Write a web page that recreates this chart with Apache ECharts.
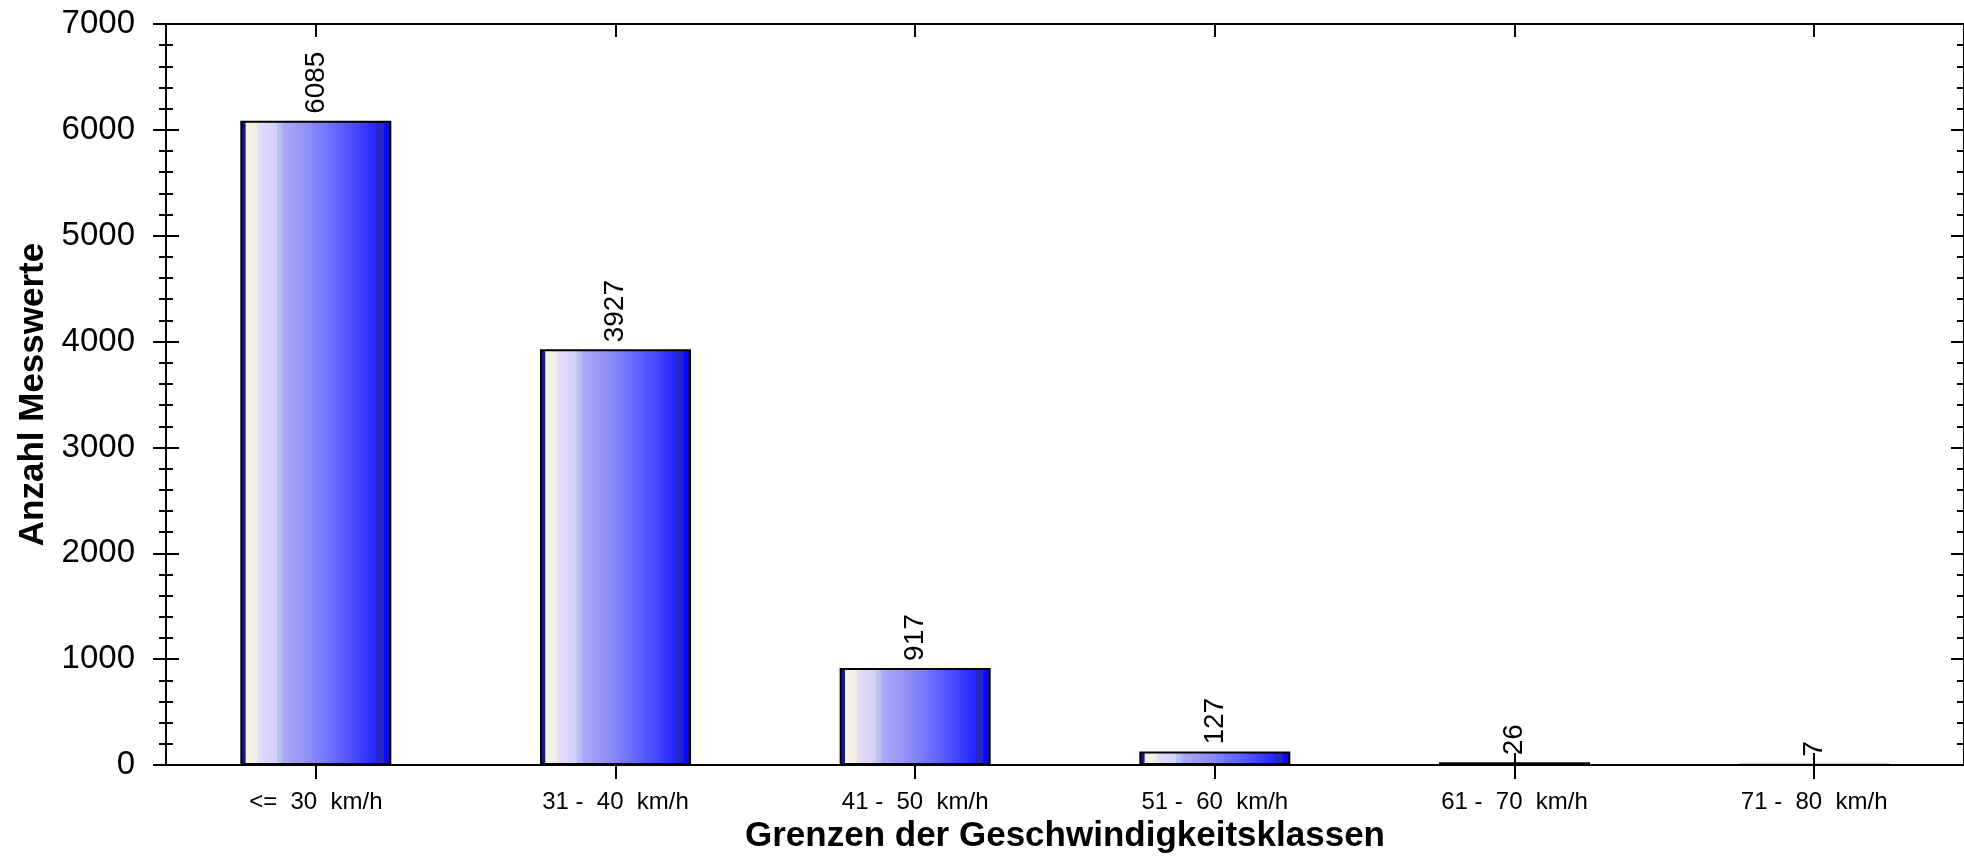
<!DOCTYPE html>
<html><head><meta charset="utf-8">
<script src="https://cdn.jsdelivr.net/npm/echarts@6/dist/echarts.min.js"></script>
<style>html,body{margin:0;padding:0;background:#fff}#c{width:1964px;height:859px}</style>
</head><body><div id="c"></div>
<script>
const categories = ['<=  30  km/h', '31 -  40  km/h', '41 -  50  km/h', '51 -  60  km/h', '61 -  70  km/h', '71 -  80  km/h'];
const values = [6085, 3927, 917, 127, 26, 7];
const yMin = 0, yMax = 7000, yStep = 1000;
const xTitle = 'Grenzen der Geschwindigkeitsklassen';
const yTitle = 'Anzahl Messwerte';

const FONT = '"Liberation Sans", Arial, Helvetica, sans-serif';
const chart = echarts.init(document.getElementById('c'), null, {renderer: 'canvas'});

const barGradient = new echarts.graphic.LinearGradient(0, 0, 1, 0, [
  {offset: 0, color: '#16168e'},
  {offset: 0.032, color: '#16168e'},
  {offset: 0.038, color: '#f2f2fa'},
  {offset: 0.06, color: '#f4f2e4'},
  {offset: 0.112, color: '#f0eee0'},
  {offset: 0.118, color: '#e6dcf8'},
  {offset: 0.24, color: '#d2d0f8'},
  {offset: 0.245, color: '#b8c4ec'},
  {offset: 0.275, color: '#b4c0ee'},
  {offset: 0.28, color: '#ababfb'},
  {offset: 0.45, color: '#9090f4'},
  {offset: 0.6, color: '#6e6eff'},
  {offset: 0.75, color: '#4c4cff'},
  {offset: 0.9, color: '#2424ff'},
  {offset: 0.905, color: '#2626c4'},
  {offset: 0.948, color: '#2626c4'},
  {offset: 0.952, color: '#0a0aff'},
  {offset: 1, color: '#0606ff'}
]);

const lineStyle = {color: '#000', width: 2};
const tickStyle = {color: '#000', width: 2};

function yAx(extra) {
  return Object.assign({
    type: 'value', min: yMin, max: yMax, interval: yStep,
    splitLine: {show: false},
    axisLine: {show: true, onZero: false, lineStyle: lineStyle},
    axisTick: {show: true, length: 13, lineStyle: tickStyle},
    minorTick: {show: true, splitNumber: 5, length: 7, lineStyle: {color: '#000', width: 2}},
    minorSplitLine: {show: false},
    axisLabel: {show: false}
  }, extra);
}
function xAx(extra) {
  return Object.assign({
    type: 'category', data: categories,
    axisLine: {show: true, onZero: false, lineStyle: lineStyle},
    axisTick: {show: true, alignWithLabel: true, length: 14, lineStyle: tickStyle},
    axisLabel: {show: false},
    splitLine: {show: false}
  }, extra);
}

chart.setOption({
  backgroundColor: '#fff',
  animation: false,
  textStyle: {fontFamily: FONT},
  grid: {left: 166, right: -3, top: 24, bottom: 93, containLabel: false},
  xAxis: [
    xAx({position: 'bottom',
      axisLabel: {show: true, color: '#000', fontSize: 24, fontFamily: FONT, margin: 25, interval: 0},
      name: xTitle, nameLocation: 'middle', nameGap: 54,
      nameTextStyle: {fontSize: 35, fontWeight: 'bold', color: '#000', fontFamily: FONT}}),
    xAx({position: 'bottom', axisLine: {show: false}, axisTick: {show: true, inside: true, alignWithLabel: true, length: 12, lineStyle: tickStyle}}),
    xAx({position: 'top', axisTick: {show: true, inside: true, alignWithLabel: true, length: 13, lineStyle: tickStyle}})
  ],
  yAxis: [
    yAx({position: 'left',
      axisLabel: {show: true, color: '#000', fontSize: 33, fontFamily: FONT, margin: 31, formatter: v => String(v)},
      name: yTitle, nameLocation: 'middle', nameGap: 115, nameRotate: 90,
      nameTextStyle: {fontSize: 35, fontWeight: 'bold', color: '#000', fontFamily: FONT}}),
    yAx({position: 'left', axisTick: {show: true, inside: true, length: 13, lineStyle: tickStyle},
      minorTick: {show: true, splitNumber: 5, length: 7, lineStyle: {color: '#000', width: 2}}}),
    yAx({position: 'right', axisTick: {show: true, inside: true, length: 13, lineStyle: tickStyle},
      minorTick: {show: true, splitNumber: 5, length: 7, lineStyle: {color: '#000', width: 2}}})
  ],
  series: [{
    type: 'bar',
    xAxisIndex: 0, yAxisIndex: 0,
    data: values,
    barWidth: 151,
    itemStyle: {color: barGradient, borderColor: '#000', borderWidth: 2},
    label: {
      show: true, position: 'top', rotate: 90, align: 'left', verticalAlign: 'middle',
      distance: 7, fontSize: 28, color: '#000', fontFamily: FONT
    },
    z: 3
  }]
});
</script>
</body></html>
